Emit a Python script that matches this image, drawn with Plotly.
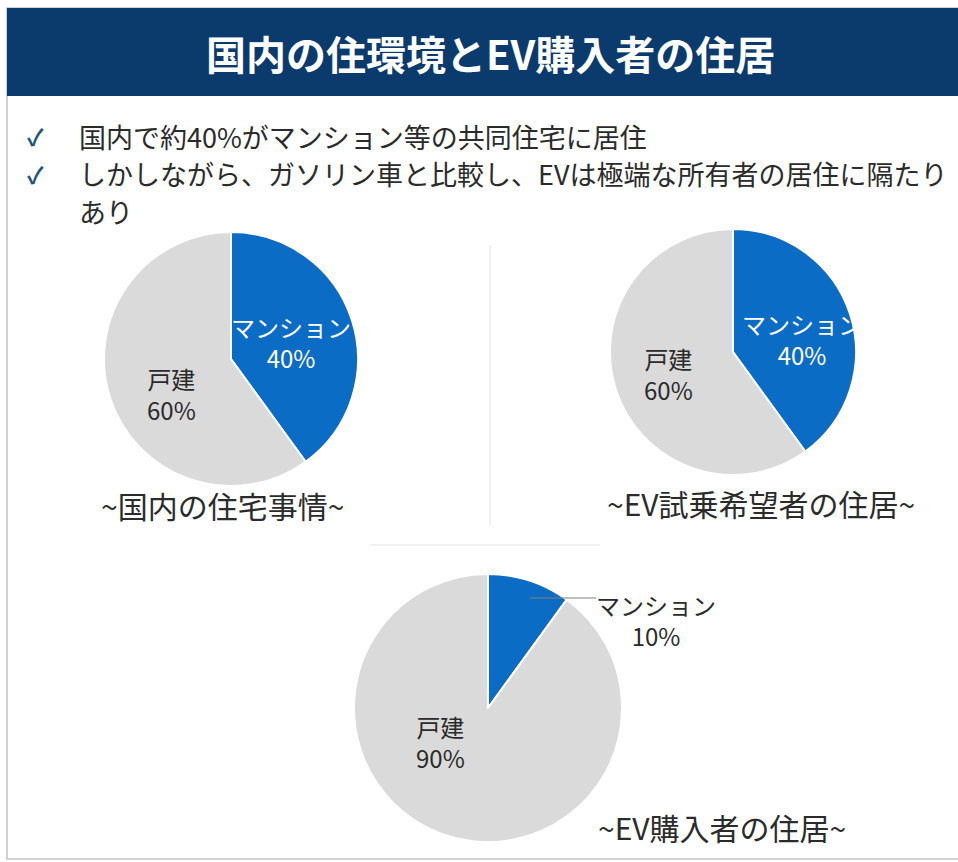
import plotly.graph_objects as go

W, H = 958, 862

# ---- content -------------------------------------------------------------
title_text = "国内の住環境とEV購入者の住居"
bullet_lines = [
    ["国内で約40%がマンション等の共同住宅に居住"],
    ["しかしながら、ガソリン車と比較し、EVは極端な所有者の居住に隔たり", "あり"],
]
categories = ["マンション", "戸建"]
domestic_share = [40, 60]
test_drive_share = [40, 60]
buyer_share = [10, 90]
captions = ["~国内の住宅事情~", "~EV試乗希望者の住居~", "~EV購入者の住居~"]

# ---- styling -------------------------------------------------------------
NAVY = "#0b3a6c"
BLUE = "#0a6cc4"
GREY = "#dadada"
TEXT = "#2b2b2b"
FONT = "Noto Sans CJK JP"

fig = go.Figure()

# pie placement in pixels: (centre x, centre y, radius)
pies = [
    (domestic_share, (231, 359, 127)),
    (test_drive_share, (733, 352, 123)),
    (buyer_share, (488, 708, 134)),
]
for values, (cx, cy, r) in pies:
    fig.add_trace(go.Pie(
        labels=categories, values=values, sort=False, direction="clockwise",
        rotation=0, textinfo="none", hoverinfo="label+percent",
        marker=dict(colors=[BLUE, GREY], line=dict(color="white", width=2)),
        domain=dict(x=[(cx - r) / W, (cx + r) / W],
                    y=[1 - (cy + r) / H, 1 - (cy - r) / H]),
        showlegend=False,
    ))

shapes = [
    # outer frame and title band
    dict(type="rect", x0=7, x1=W + 5, y0=8, y1=859, layer="below",
         line=dict(color="#c4c4c4", width=1.5), fillcolor="rgba(0,0,0,0)"),
    dict(type="rect", x0=7, x1=W + 5, y0=8, y1=96, layer="below",
         line=dict(width=0), fillcolor=NAVY),
    # faint separators between the charts
    dict(type="line", x0=490, x1=490, y0=245, y1=525, layer="below",
         line=dict(color="#ececec", width=1.5)),
    dict(type="line", x0=370, x1=600, y0=545, y1=545, layer="below",
         line=dict(color="#ececec", width=1.5)),
    # leader line for the small slice
    dict(type="line", x0=530, x1=596, y0=598, y1=598, layer="above",
         line=dict(color="#808080", width=1.2)),
]
for s in shapes:
    s.update(xref="x", yref="y")

annotations = []


def text(x, y, s, size, color=TEXT, xanchor="center", bold=False):
    annotations.append(dict(
        x=x, y=y, xref="x", yref="y", text=f"<b>{s}</b>" if bold else s,
        showarrow=False, xanchor=xanchor, yanchor="middle",
        font=dict(family=FONT, size=size, color=color), align="center",
    ))


text(490, 53, title_text, 40, color="white", bold=True)

line_y = 136
for lines in bullet_lines:
    text(25, line_y, "<b>✓</b>", 23, color="#1f5675", xanchor="left")
    for ln in lines:
        text(77, line_y, ln, 27, xanchor="left")
        line_y += 37.5

# slice labels
label_pos = [
    ((291, 342), (171, 394), "white"),
    ((802, 339), (668, 374), "white"),
    ((656, 620), (440, 742), TEXT),
]
for (values, _), (mpos, dpos, mcol) in zip(pies, label_pos):
    text(mpos[0], mpos[1], f"{categories[0]}<br>{values[0]}%", 24, color=mcol)
    text(dpos[0], dpos[1], f"{categories[1]}<br>{values[1]}%", 24)

caption_pos = [(222, 505), (761, 503), (722, 827)]
for cap, (x, y) in zip(captions, caption_pos):
    text(x, y, cap, 30)

fig.update_layout(
    width=W, height=H, margin=dict(l=0, r=0, t=0, b=0),
    paper_bgcolor="white", plot_bgcolor="white",
    xaxis=dict(range=[0, W], visible=False, domain=[0, 1], fixedrange=True),
    yaxis=dict(range=[H, 0], visible=False, domain=[0, 1], fixedrange=True),
    shapes=shapes, annotations=annotations,
)

fig.write_html("out.html")
